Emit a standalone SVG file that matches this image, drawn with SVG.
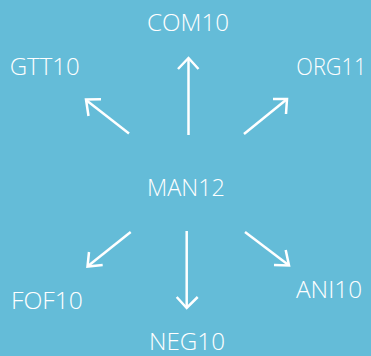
<svg xmlns="http://www.w3.org/2000/svg" width="371" height="356" viewBox="0 0 371 356">
<style>
text{font-family:"Open Sans","Liberation Sans",sans-serif;font-size:23px;font-weight:300;fill:#ffffff;text-anchor:middle}
.c path{fill:none;stroke:#ffffff;stroke-width:2.5;stroke-linecap:butt;stroke-linejoin:miter}
</style>
<rect width="371" height="356" fill="#64bcd8"/>
<g id="MAN12"><text x="186" y="195.5" textLength="78" lengthAdjust="spacingAndGlyphs">MAN12</text></g>
<g id="COM10"><text x="188" y="31.3" textLength="82" lengthAdjust="spacingAndGlyphs">COM10</text></g>
<g id="GTT10"><text x="44.7" y="75" textLength="70" lengthAdjust="spacingAndGlyphs">GTT10</text></g>
<g id="ORG11"><text x="331.3" y="75" textLength="70" lengthAdjust="spacingAndGlyphs">ORG11</text></g>
<g id="FOF10"><text x="47" y="309" textLength="72" lengthAdjust="spacingAndGlyphs">FOF10</text></g>
<g id="NEG10"><text x="187" y="349.8" textLength="76" lengthAdjust="spacingAndGlyphs">NEG10</text></g>
<g id="ANI10"><text x="329" y="297.5" textLength="66" lengthAdjust="spacingAndGlyphs">ANI10</text></g>
<g id="connectors" class="c">
<path d="M188.5 135 V58.5"/>
<path d="M178 69 L188.5 58 L198.5 69"/>
<path d="M129 133.5 L86 100"/>
<path d="M88.5 116 L86 99.5 L101 99.3"/>
<path d="M244 134 L286.5 99.5"/>
<path d="M273 99 L287 99 L286 114"/>
<path d="M186.7 231 V307.5"/>
<path d="M176.7 297 L186.7 308 L197.7 297"/>
<path d="M130.7 232 L88 266"/>
<path d="M89 252 L87.5 266.5 L102.7 265"/>
<path d="M245 232 L288.5 265"/>
<path d="M274 265 L289 265.5 L285.7 250"/>
</g>
</svg>
